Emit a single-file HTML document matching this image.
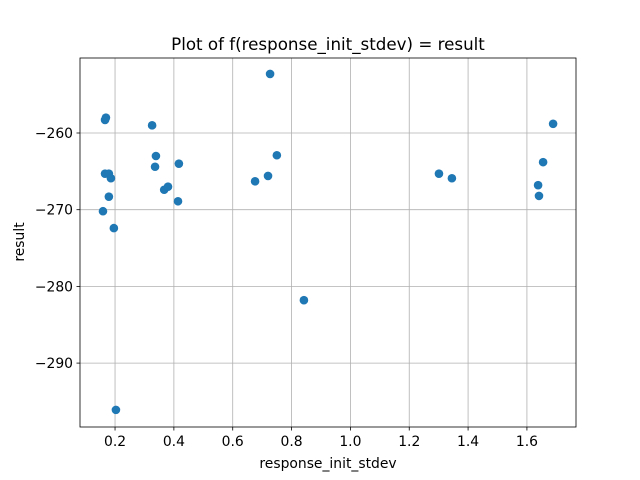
<!DOCTYPE html>
<html><head><meta charset="utf-8"><style>body{margin:0;background:#fff}svg{display:block;font-family:"DejaVu Sans","Liberation Sans",sans-serif}</style></head>
<body>
<svg id="chart" width="640" height="480">
<rect width="640" height="480" fill="#fff"/>
<g id="grid"></g>
<g id="pts"></g>
<rect x="80" y="58" width="496" height="369" fill="none" stroke="#000" stroke-width="0.8"/>
<g id="ticks" font-size="13.9"></g>
<text x="328" y="50" text-anchor="middle" font-size="16.7">Plot of f(response_init_stdev) = result</text>
<text x="328" y="468" text-anchor="middle" font-size="13.9">response_init_stdev</text>
<text x="24" y="242" text-anchor="middle" font-size="13.9" transform="rotate(-90 24 242)">result</text>
</svg>
<script>
const xVals=[0.169,0.166,0.166,0.179,0.186,0.179,0.159,0.196,0.203,0.326,0.339,0.336,0.367,0.380,0.417,0.414,0.727,0.750,0.676,0.720,0.842,1.301,1.345,1.638,1.641,1.655,1.689];
const yVals=[-258.0,-258.3,-265.3,-265.3,-265.9,-268.3,-270.2,-272.4,-296.1,-259.0,-263.0,-264.4,-267.4,-267.0,-264.0,-268.9,-252.3,-262.9,-266.3,-265.6,-281.8,-265.3,-265.9,-266.8,-268.2,-263.8,-258.8];
const xTicks=[0.2,0.4,0.6,0.8,1.0,1.2,1.4,1.6];
const yTicks=[-260,-270,-280,-290];
const NS="http://www.w3.org/2000/svg";
function sx(v){return 56.2+v*294.2;}
function sy(v){return 133+(-260-v)*7.67;}
function mk(t,a,p){const e=document.createElementNS(NS,t);for(const k in a)e.setAttribute(k,a[k]);p.appendChild(e);return e;}
const g=document.getElementById('grid'),tk=document.getElementById('ticks'),pts=document.getElementById('pts');
xTicks.forEach(v=>{const x=sx(v);
const l=mk('line',{x1:x,x2:x,y1:58,y2:427,stroke:'#b0b0b0','stroke-width':0.8},g);


mk('line',{x1:x,x2:x,y1:427,y2:430.5,stroke:'#000','stroke-width':0.8},tk);
const t=mk('text',{x:x,y:446,'text-anchor':'middle'},tk);t.textContent=v.toFixed(1);

});
yTicks.forEach(v=>{const y=sy(v);
const l=mk('line',{x1:80,x2:576,y1:y,y2:y,stroke:'#b0b0b0','stroke-width':0.8},g);


mk('line',{x1:76.5,x2:80,y1:y,y2:y,stroke:'#000','stroke-width':0.8},tk);
const t=mk('text',{x:73,y:y+5,'text-anchor':'end'},tk);t.textContent='\u2212'+Math.abs(v);

});
xVals.forEach((v,i)=>{const c=mk('circle',{cx:sx(v),cy:sy(yVals[i]),r:4.3,fill:'#1f77b4'},pts);

});
</script>
</body></html>
